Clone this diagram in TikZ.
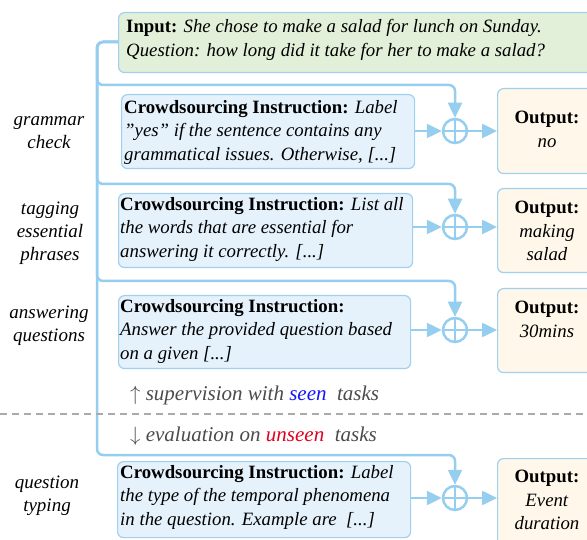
\documentclass[tikz,border=0pt]{standalone}
\usepackage{fontspec}
\setmainfont{Liberation Serif}
\usetikzlibrary{arrows.meta}
\definecolor{lnblue}{RGB}{150,206,240}
\definecolor{bdblue}{RGB}{160,208,240}
\definecolor{infill}{RGB}{226,240,217}
\definecolor{insfill}{RGB}{229,242,251}
\definecolor{outfill}{RGB}{255,248,234}
\definecolor{txtgray}{RGB}{75,75,75}
\definecolor{seenblue}{RGB}{20,20,250}
\definecolor{unseenred}{RGB}{225,0,30}
\tikzset{
  boxbase/.style={draw=bdblue, line width=1.2pt, rounded corners=6pt, inner sep=0pt, anchor=north west},
  inbox/.style={boxbase, fill=infill},
  insbox/.style={boxbase, fill=insfill},
  outbox/.style={boxbase, fill=outfill},
  conn/.style={draw=lnblue, line width=2.5pt, rounded corners=6pt},
  arr/.style={conn, -{Triangle[length=15pt,width=14pt]}},
  oplus/.style={circle, draw=lnblue, line width=2.5pt, minimum size=24pt, inner sep=0pt,
    path picture={\draw[lnblue, line width=2.5pt] (path picture bounding box.north) -- (path picture bounding box.south) (path picture bounding box.west) -- (path picture bounding box.east);}},
  body/.style={font=\fontsize{18.8pt}{23.7pt}\selectfont, align=left, inner sep=0pt, anchor=north west},
  outtxt/.style={font=\fontsize{18.8pt}{23.5pt}\selectfont, align=center, inner sep=0pt, anchor=north},
  side/.style={font=\fontsize{19pt}{23pt}\selectfont\itshape, align=center, inner sep=0pt},
  gtxt/.style={font=\fontsize{21pt}{24pt}\selectfont\itshape, text=txtgray, inner sep=0pt, anchor=west},
}
\begin{document}
\begin{tikzpicture}[x=1pt,y=-1pt]
\useasboundingbox (0,0) rectangle (587,540);
\clip (0,0) rectangle (587,540);

% boxes
\node[inbox, minimum width=510pt, minimum height=60pt] (inp) at (118,12) {};
\node[body] (inpt) at (126,19) {\textbf{Input:} \textit{She chose to make a salad for lunch on Sunday.}\\\textit{Question: how long did it take for her to make a salad?}};

\node[insbox, minimum width=293pt, minimum height=74pt] (i1) at (121,94) {};
\node[body] (i1t) at (124,100) {\textbf{Crowdsourcing Instruction:} \textit{Label}\\\textit{\symbol{34}yes\symbol{34} if the sentence contains any}\\\textit{grammatical issues. Otherwise, [...]}};
\node[insbox, minimum width=294pt, minimum height=74pt] (i2) at (118,193) {};
\node[body] (i2t) at (120,197) {\textbf{Crowdsourcing Instruction:} \textit{List all}\\\textit{the words that are essential for}\\\textit{answering it correctly. [...]}};
\node[insbox, minimum width=292pt, minimum height=73pt] (i3) at (118,295) {};
\node[body] (i3t) at (120,299) {\textbf{Crowdsourcing Instruction:}\\\textit{Answer the provided question based}\\\textit{on a given [...]}};
\node[insbox, minimum width=293pt, minimum height=76pt] (i4) at (117,461) {};
\node[body] (i4t) at (120,465) {\textbf{Crowdsourcing Instruction:} \textit{Label}\\\textit{the type of the temporal phenomena}\\\textit{in the question. Example are\ \ [...]}};

\node[outbox, minimum width=120pt, minimum height=85pt] (o1) at (497,88) {};
\node[outtxt] (o1t) at (547,111) {\textbf{Output:}\\\textit{no}};
\node[outbox, minimum width=120pt, minimum height=84pt] (o2) at (497,188) {};
\node[outtxt] (o2t) at (547,201) {\textbf{Output:}\\\textit{making}\\\textit{salad}};
\node[outbox, minimum width=120pt, minimum height=84pt] (o3) at (497,288) {};
\node[outtxt] (o3t) at (547,301) {\textbf{Output:}\\\textit{30mins}};
\node[outbox, minimum width=120pt, minimum height=90pt] (o4) at (497,458) {};
\node[outtxt] (o4t) at (547,470) {\textbf{Output:}\\\textit{Event}\\\textit{duration}};

% oplus nodes
\node[oplus] (c1) at (455,131) {};
\node[oplus] (c2) at (455,227) {};
\node[oplus] (c3) at (455,330) {};
\node[oplus] (c4) at (455,498) {};

% trunk and branches
\draw[arr] (inp.west |- 0,42) -| (97,85) -| (c1.north);
\draw[arr] (inp.west |- 0,42) -| (97,184) -| (c2.north);
\draw[arr] (inp.west |- 0,42) -| (97,281) -| (c3.north);
\draw[arr] (inp.west |- 0,42) -| (97,455) -| (c4.north);

% horizontal arrows
\draw[arr] (i1.east |- c1) -- (c1.west);
\draw[arr] (c1.east) -- (o1.west |- c1);
\draw[arr] (i2.east |- c2) -- (c2.west);
\draw[arr] (c2.east) -- (o2.west |- c2);
\draw[arr] (i3.east |- c3) -- (c3.west);
\draw[arr] (c3.east) -- (o3.west |- c3);
\draw[arr] (i4.east |- c4) -- (c4.west);
\draw[arr] (c4.east) -- (o4.west |- c4);

% side labels
\node[side] (s1) at (49,133) {grammar\\check};
\node[side] (s2) at (50,233) {tagging\\essential\\phrases};
\node[side] (s3) at (49,326) {answering\\questions};
\node[side] (s4) at (47,496) {question\\typing};

% separator
\coordinate (dl) at (0,414);
\coordinate (dr) at (587,414);
\draw[draw={rgb,255:red,170;green,170;blue,170}, line width=1.6pt, dash pattern=on 7pt off 5pt] (dl) -- (dr);

\node[gtxt] (sup) at (130,395) {$\uparrow$ supervision with \textcolor{seenblue}{seen}\ \ tasks};
\node[gtxt] (eva) at (130,436) {$\downarrow$ evaluation on \textcolor{unseenred}{unseen}\ \ tasks};
\end{tikzpicture}
\end{document}
